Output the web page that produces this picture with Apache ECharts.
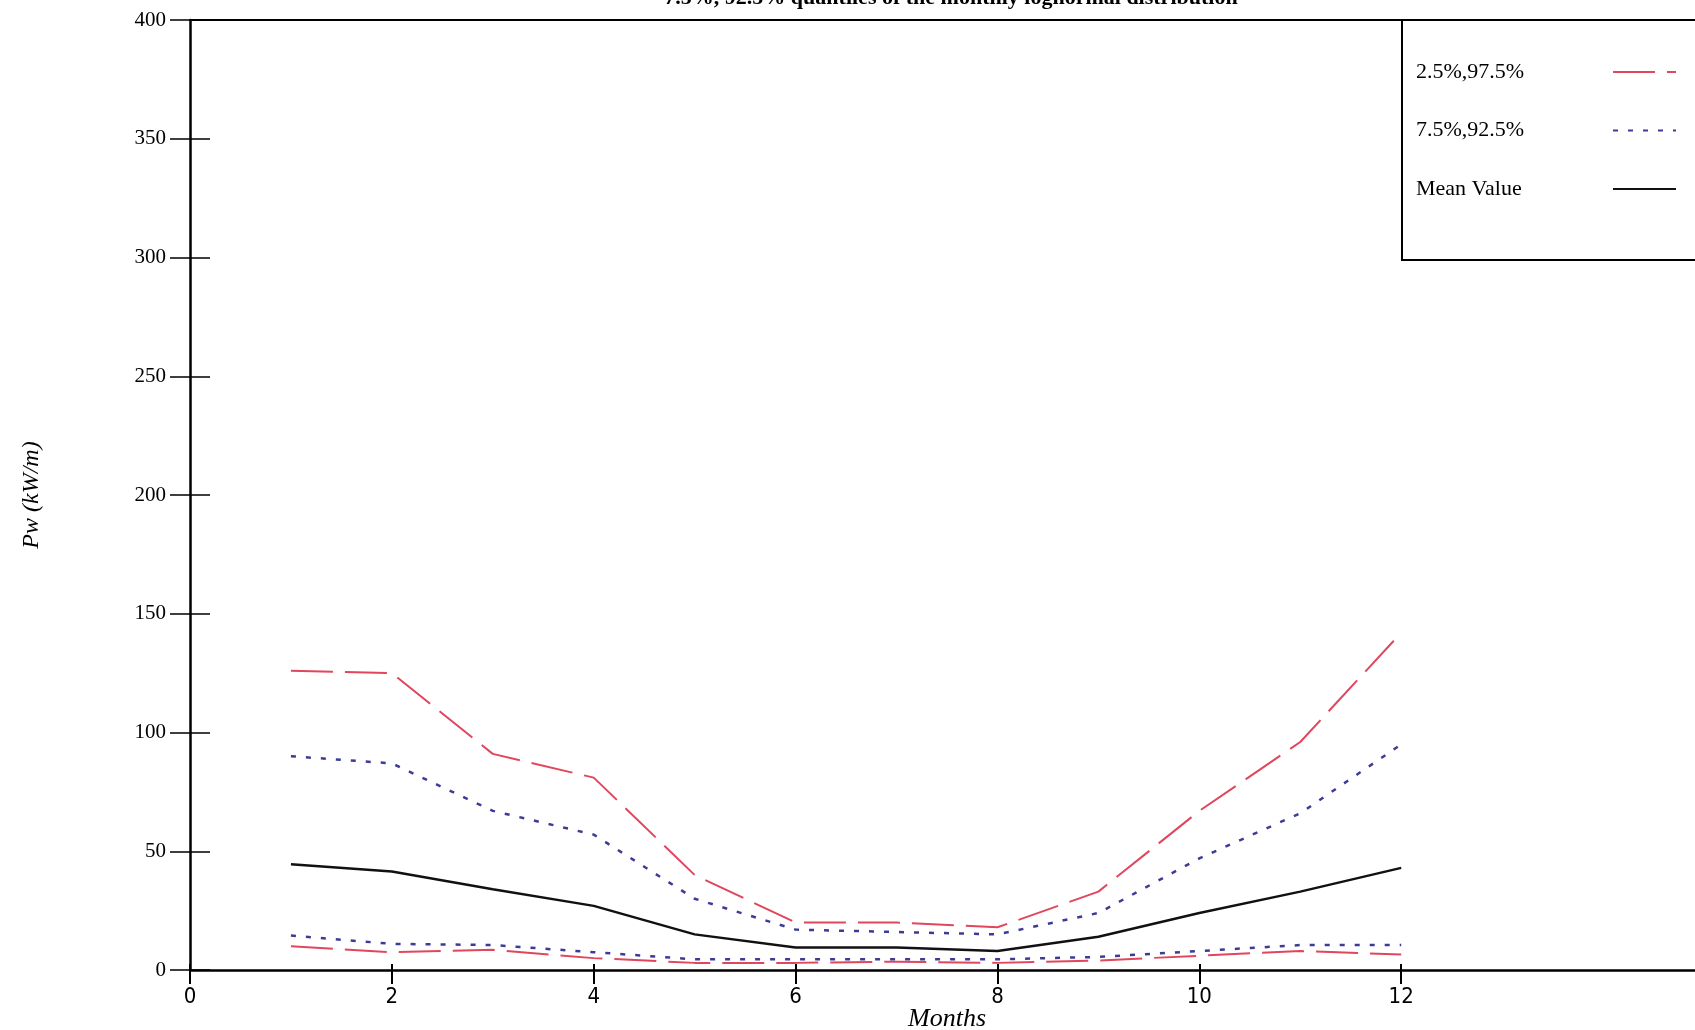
<!DOCTYPE html>
<html>
<head>
<meta charset="utf-8">
<script src="https://cdn.jsdelivr.net/npm/echarts@6/dist/echarts.min.js"></script>
<style>
  * { margin: 0; padding: 0; }
  #chart-container { width: 1695px; height: 1030px; background: #fff; overflow: hidden; }
</style>
</head>
<body>
<div id="chart-container"></div>
<script>
  // values
  var months = [1, 2, 3, 4, 5, 6, 7, 8, 9, 10, 11, 12]
  var upper975 = [126, 125, 91, 81, 40, 20, 20, 18, 33, 67, 96, 142]
  var upper925 = [90, 87, 67, 57, 30, 17, 16, 15, 24, 47, 66, 95]
  var meanVals = [44.5, 41.5, 34, 27, 15, 9.5, 9.5, 8, 14, 24, 33, 43]
  var lower75 = [14.5, 11, 10.5, 7.5, 4.5, 4.5, 4.5, 4.5, 5.5, 8, 10.5, 10.5]
  var lower25 = [10, 7.5, 8.5, 5, 3, 3, 3.5, 3, 4, 6, 8, 6.5]
  var xTicks = [0, 2, 4, 6, 8, 10, 12]

  var redColor = '#e0465c'
  var blueColor = '#3c3c96'

  function pairs(vals) {
    return months.map(function (m, i) { return [m, vals[i]] })
  }

  var chartDom = document.getElementById('chart-container')
  var myChart = echarts.init(chartDom, null, { renderer: 'canvas' })

  var serif = '"Liberation Serif", "DejaVu Serif", serif'
  var narrow = '"Liberation Sans Narrow", "DejaVu Sans Condensed", sans-serif'

  var option = {
    animation: false,
    backgroundColor: '#fff',
    title: {
      text: '7.5%, 92.5% quantiles of the monthly lognormal distribution',
      left: 946,
      textAlign: 'center',
      top: -18,
      textStyle: { fontFamily: serif, fontWeight: 'bold', fontSize: 22, color: '#000' },
    },
    legend: {
      left: 1402,
      top: 20,
      orient: 'vertical',
      align: 'right',
      padding: [41, 40, 60, 14],
      itemGap: 36.5,
      itemWidth: 63,
      itemHeight: 20,
      borderColor: '#000',
      borderWidth: 2,
      itemStyle: { opacity: 0 },
      formatter: function (name) { return '{t|' + name + '}' },
      textStyle: {
        rich: { t: { fontFamily: serif, fontSize: 22, color: '#000', width: 192, lineHeight: 20, align: 'left' } },
      },
      data: ['2.5%,97.5%', '7.5%,92.5%', 'Mean Value'],
    },
    grid: { left: 190, right: -9, top: 20, bottom: 60, outerBoundsMode: 'none', containLabel: false },
    xAxis: [
      {
        type: 'value',
        min: 0,
        max: 15,
        interval: 1,
        position: 'bottom',
        name: 'Months',
        nameLocation: 'middle',
        nameGap: 36,
        nameMoveOverlap: false,
        nameTextStyle: { fontFamily: serif, fontStyle: 'italic', fontSize: 26, color: '#000' },
        axisLine: { lineStyle: { color: '#000', width: 2.5 } },
        axisTick: { show: true, inside: false, length: 14, customValues: xTicks, lineStyle: { color: '#000', width: 2 } },
        axisLabel: { customValues: xTicks, margin: 16, fontFamily: narrow, fontSize: 22, color: '#000' },
        splitLine: { show: false },
      },
      {
        type: 'value',
        min: 0,
        max: 15,
        position: 'bottom',
        axisLine: { show: false },
        axisTick: { show: true, inside: true, length: 6, customValues: xTicks, lineStyle: { color: '#000', width: 2 } },
        axisLabel: { show: false },
        splitLine: { show: false },
      },
      {
        type: 'value',
        min: 0,
        max: 15,
        position: 'top',
        axisLine: { show: true, lineStyle: { color: '#000', width: 2 } },
        axisTick: { show: false },
        axisLabel: { show: false },
        splitLine: { show: false },
      },
    ],
    yAxis: [
      {
        type: 'value',
        min: 0,
        max: 400,
        interval: 50,
        position: 'left',
        name: 'Pw (kW/m)',
        nameLocation: 'middle',
        nameRotate: 90,
        nameGap: 146,
        nameTextStyle: { fontFamily: serif, fontStyle: 'italic', fontSize: 24, color: '#000' },
        axisLine: { show: true, lineStyle: { color: '#000', width: 2.5 } },
        axisTick: { show: true, inside: false, length: 20, lineStyle: { color: '#000', width: 1.5 } },
        axisLabel: { margin: 24, fontFamily: serif, fontSize: 21, color: '#000' },
        splitLine: { show: false },
      },
      {
        type: 'value',
        min: 0,
        max: 400,
        interval: 50,
        position: 'left',
        axisLine: { show: false },
        axisTick: { show: true, inside: true, length: 20, lineStyle: { color: '#000', width: 1.5 } },
        axisLabel: { show: false },
        splitLine: { show: false },
      },
    ],
    series: [
      {
        name: '2.5%,97.5%',
        type: 'line',
        symbol: 'none',
        data: pairs(upper975),
        lineStyle: { color: redColor, width: 2, type: [42, 12] },
        itemStyle: { color: redColor },
      },
      {
        name: '2.5%,97.5%',
        type: 'line',
        symbol: 'none',
        data: pairs(lower25),
        lineStyle: { color: redColor, width: 2, type: [42, 12] },
        itemStyle: { color: redColor },
      },
      {
        name: '7.5%,92.5%',
        type: 'line',
        symbol: 'none',
        data: pairs(upper925),
        lineStyle: { color: blueColor, width: 2.5, type: [5, 10] },
        itemStyle: { color: blueColor },
      },
      {
        name: '7.5%,92.5%',
        type: 'line',
        symbol: 'none',
        data: pairs(lower75),
        lineStyle: { color: blueColor, width: 2.5, type: [5, 10] },
        itemStyle: { color: blueColor },
      },
      {
        name: 'Mean Value',
        type: 'line',
        symbol: 'none',
        data: pairs(meanVals),
        lineStyle: { color: '#111', width: 2.5 },
        itemStyle: { color: '#111' },
      },
    ],
  }

  myChart.setOption(option)
  window.addEventListener('resize', myChart.resize)
</script>
</body>
</html>
